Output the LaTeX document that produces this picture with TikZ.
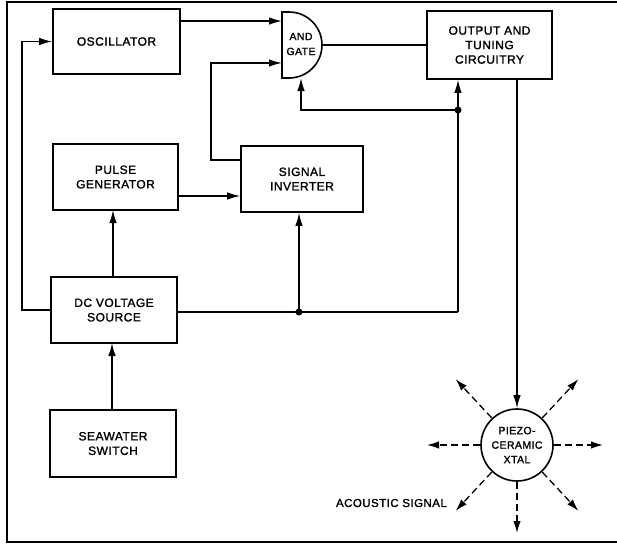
\documentclass[tikz,border=0pt]{standalone}
\usepackage{fontspec}
\setmainfont{Liberation Sans}
\newfontfamily\lab[LetterSpace=4,FakeBold=1.5]{Liberation Sans}
\usetikzlibrary{arrows.meta,calc}
\begin{document}
\begin{tikzpicture}[x=1pt,y=-1pt,
  blk/.style={draw,line width=1.6pt,inner sep=0pt,align=center,
    font=\lab\fontsize{12}{14.5}\selectfont},
  conn/.style={line width=1.3pt},
  arr/.style={conn,-{Latex[length=13pt,width=7.5pt]}},
  darr/.style={line width=1.3pt,dash pattern=on 7pt off 4pt,-{Latex[length=12pt,width=7.5pt]}},
  jdot/.style={circle,fill,inner sep=0pt,minimum size=7pt}]
\useasboundingbox (0,0) rectangle (617,544);
\fill[white] (0,0) rectangle (617,544);
% frame
\draw[line width=2pt] (617,1.5) -- (7,1.5) -- (7,541.5) -- (617,541.5);
% blocks
\node[blk,minimum width=127pt,minimum height=65pt] (osc) at (116.5,41.5) {OSCILLATOR};
\node[blk,minimum width=125pt,minimum height=66pt] (pulse) at (115.5,177) {PULSE\\GENERATOR};
\node[blk,minimum width=122pt,minimum height=66pt] (inv) at (302,179) {SIGNAL\\INVERTER};
\node[blk,minimum width=126pt,minimum height=66pt] (dc) at (114,310) {DC VOLTAGE\\SOURCE};
\node[blk,minimum width=126pt,minimum height=67pt] (sea) at (113,443.5) {SEAWATER\\SWITCH};
\node[blk,minimum width=125pt,minimum height=68pt] (out) at (489.5,45) {OUTPUT AND\\TUNING\\CIRCUITRY};
\node[blk,circle,minimum size=72pt,font=\lab\fontsize{10.5}{14.5}\selectfont] (xtal) at (517,445) {PIEZO-\\CERAMIC\\XTAL};
% AND gate
\draw[line width=1.6pt] (282,12) -- (289,12) arc (-90:90:33) -- (282,78) -- cycle;
\node[align=center,inner sep=0pt,font=\lab\fontsize{10.5}{15}\selectfont] (gate) at (301,44) {AND\\GATE};
\coordinate (gin1) at (282,21);
\coordinate (gin2) at (282,63);
\coordinate (gin3) at (301,78);
\coordinate (gout) at (322,45);
\coordinate (invout) at (241,160);
\coordinate (ybend) at (211,160);
\coordinate (j1) at (458,110);
\coordinate (j2) at (458,312);
\coordinate (j3) at (299,312);
\coordinate (xl) at (22,310);
\coordinate (pin) at (113,196);
% connectors
\draw[arr] (gin1 -| osc.east) -- (gin1);
\draw[arr] (invout) -- (ybend) |- (gin2);
\draw[arr] (j1) -| (gin3);
\node[jdot] (d1) at (j1) {};
\draw[conn] (gout) -- (out.west);
\draw[conn] (j2 -| dc.east) -- (j2);
\draw[arr] (j2) -- (j2 |- out.south);
\node[jdot] (d3) at (j3) {};
\draw[arr] (j3) -- (j3 |- inv.south);
\draw[arr] (dc.west |- xl) -- (xl) |- (osc.west);
\draw[arr] (113,277) -- (113,210);
\draw[arr] (pin -| pulse.east) -- (pin -| inv.west);
\draw[arr] (112,410) -- (112,343);
\draw[arr] (xtal.north |- out.south) -- (xtal.north);
% acoustic radiation
\foreach \a/\d in {0/86,180/90,90/88,47/90,133/90,-47/90,-133/90}{
  \draw[darr] ($(xtal.center)+(\a:37)$) -- ($(xtal.center)+(\a:\d)$);
}
\node[anchor=east,inner sep=0pt,font=\lab\fontsize{11.5}{14}\selectfont] (ac) at (447,503) {ACOUSTIC SIGNAL};
\end{tikzpicture}
\end{document}
